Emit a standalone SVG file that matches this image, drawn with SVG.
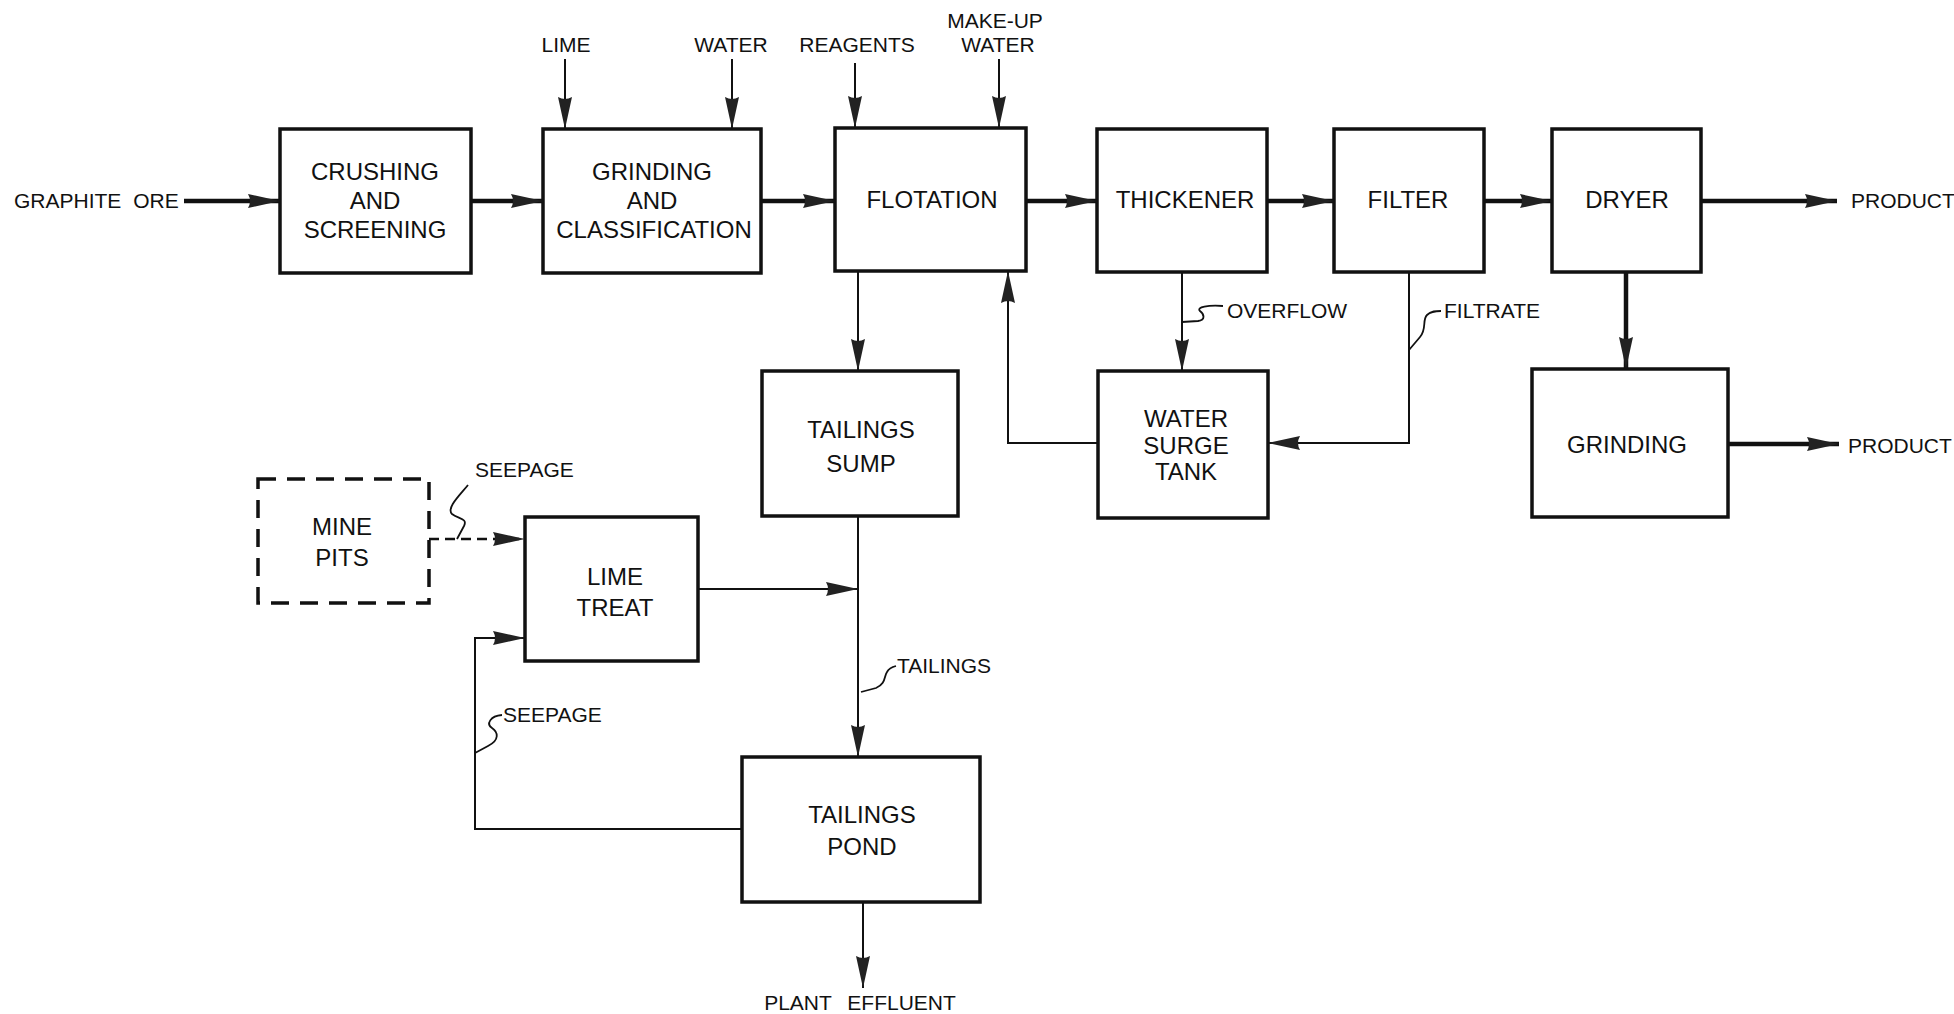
<svg xmlns="http://www.w3.org/2000/svg" width="1954" height="1014" viewBox="0 0 1954 1014">
<defs>
<style>
.box{fill:#fff;stroke:#111;stroke-width:3.5}
.dash{fill:#fff;stroke:#111;stroke-width:3.5;stroke-dasharray:18 11}
.t{font-family:"Liberation Sans",Arial,sans-serif;font-size:24px;fill:#111;text-anchor:middle}
.l{font-family:"Liberation Sans",Arial,sans-serif;font-size:21px;fill:#111}
.lc{text-anchor:middle}
.thick{fill:none;stroke:#111;stroke-width:4.5;marker-end:url(#ah)}
.thin{fill:none;stroke:#111;stroke-width:2;marker-end:url(#ah)}
.dl{fill:none;stroke:#111;stroke-width:2.5;stroke-dasharray:10 6;marker-end:url(#ah)}
.sq{fill:none;stroke:#111;stroke-width:1.8}
</style>
<marker id="ah" markerUnits="userSpaceOnUse" viewBox="0 0 32 16" refX="32" refY="8" markerWidth="32" markerHeight="16" orient="auto">
<path d="M0,1 Q4,8 0,15 L32,8 Z" fill="#222"/>
</marker>
</defs>

<g id="crushing"><rect class="box" x="280" y="129" width="191" height="144"/>
<text class="t" x="375" y="180">CRUSHING</text><text class="t" x="375" y="209">AND</text><text class="t" x="375" y="238">SCREENING</text></g>

<g id="grinding-classification"><rect class="box" x="543" y="129" width="218" height="144"/>
<text class="t" x="652" y="180">GRINDING</text><text class="t" x="652" y="209">AND</text><text class="t" x="654" y="238">CLASSIFICATION</text></g>

<g id="flotation"><rect class="box" x="835" y="128" width="191" height="143"/>
<text class="t" x="932" y="208">FLOTATION</text></g>

<g id="thickener"><rect class="box" x="1097" y="129" width="170" height="143"/>
<text class="t" x="1185" y="208">THICKENER</text></g>

<g id="filter"><rect class="box" x="1334" y="129" width="150" height="143"/>
<text class="t" x="1408" y="208">FILTER</text></g>

<g id="dryer"><rect class="box" x="1552" y="129" width="149" height="143"/>
<text class="t" x="1627" y="208">DRYER</text></g>

<g id="tailings-sump"><rect class="box" x="762" y="371" width="196" height="145"/>
<text class="t" x="861" y="438">TAILINGS</text><text class="t" x="861" y="472">SUMP</text></g>

<g id="water-surge-tank"><rect class="box" x="1098" y="371" width="170" height="147"/>
<text class="t" x="1186" y="427">WATER</text><text class="t" x="1186" y="454">SURGE</text><text class="t" x="1186" y="480">TANK</text></g>

<g id="grinding"><rect class="box" x="1532" y="369" width="196" height="148"/>
<text class="t" x="1627" y="453">GRINDING</text></g>

<g id="mine-pits"><rect class="dash" x="258" y="479" width="171" height="124"/>
<text class="t" x="342" y="535">MINE</text><text class="t" x="342" y="566">PITS</text></g>

<g id="lime-treat"><rect class="box" x="525" y="517" width="173" height="144"/>
<text class="t" x="615" y="585">LIME</text><text class="t" x="615" y="616">TREAT</text></g>

<g id="tailings-pond"><rect class="box" x="742" y="757" width="238" height="145"/>
<text class="t" x="862" y="823">TAILINGS</text><text class="t" x="862" y="855">POND</text></g>

<g id="connectors">
<path class="thick" d="M184,201 H280"/>
<path class="thick" d="M471,201 H543"/>
<path class="thick" d="M761,201 H835"/>
<path class="thick" d="M1026,201 H1097"/>
<path class="thick" d="M1267,201 H1334"/>
<path class="thick" d="M1484,201 H1552"/>
<path class="thick" d="M1701,201 H1837"/>
<path class="thick" d="M1626,272 V369"/>
<path class="thick" d="M1728,444 H1839"/>
<path class="thin" d="M565,59 V129"/>
<path class="thin" d="M732,59 V129"/>
<path class="thin" d="M855,63 V128"/>
<path class="thin" d="M999,59 V128"/>
<path class="thin" d="M858,271 V371"/>
<path class="thin" d="M1098,443 H1008 V271"/>
<path class="thin" d="M1182,272 V371"/>
<path class="thin" d="M1409,272 V443 H1268"/>
<path class="thin" d="M858,516 V757"/>
<path class="thin" d="M698,589 H858"/>
<path class="dl" d="M429,539 H525"/>
<path class="thin" d="M742,829 H475 V638 H525"/>
<path class="thin" d="M863,902 V988"/>
<path class="sq" d="M1182,322 L1198,321 C1206,320 1204,314 1200,311 C1196,307 1208,305 1223,306"/>
<path class="sq" d="M1409,350 L1420,337 C1427,329 1422,320 1427,315 C1431,311 1436,311 1441,311"/>
<path class="sq" d="M468,485 C460,495 446,508 452,514 C458,519 468,518 464,526 L457,539"/>
<path class="sq" d="M861,692 L876,688 C886,684 884,676 887,672 C889,668 892,667 896,666"/>
<path class="sq" d="M475,753 L488,746 C500,740 498,732 492,728 C486,724 490,716 502,715"/>
</g>

<g id="labels">
<text class="l" x="14" y="208" word-spacing="6">GRAPHITE ORE</text>
<text class="l lc" x="566" y="52">LIME</text>
<text class="l lc" x="731" y="52">WATER</text>
<text class="l lc" x="857" y="52">REAGENTS</text>
<text class="l lc" x="995" y="28">MAKE-UP</text>
<text class="l lc" x="998" y="52">WATER</text>
<text class="l" x="1851" y="208">PRODUCT</text>
<text class="l" x="1848" y="453">PRODUCT</text>
<text class="l" x="1227" y="318">OVERFLOW</text>
<text class="l" x="1444" y="318">FILTRATE</text>
<text class="l" x="475" y="477">SEEPAGE</text>
<text class="l" x="503" y="722">SEEPAGE</text>
<text class="l" x="897" y="673">TAILINGS</text>
<text class="l lc" x="860" y="1010" word-spacing="10">PLANT EFFLUENT</text>
</g>
</svg>
